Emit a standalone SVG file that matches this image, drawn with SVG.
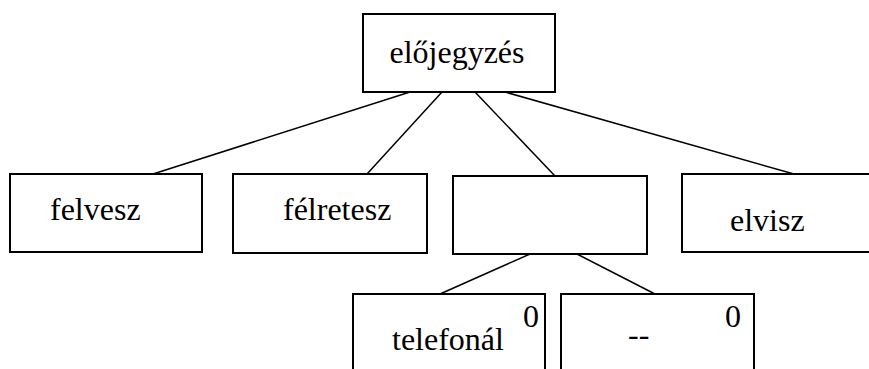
<svg xmlns="http://www.w3.org/2000/svg" width="869" height="369" viewBox="0 0 869 369">
<style>
.box{fill:#fff;stroke:#000;stroke-width:2}
.t{font-family:"Times New Roman",Times,"Liberation Serif","DejaVu Serif",serif;font-size:32px;fill:#000}
.c{stroke:#000;stroke-width:1.5;fill:none}
</style>
<rect width="869" height="369" fill="#fff"/>
<g id="connectors">
<line class="c" x1="410" y1="92" x2="153" y2="174"/>
<line class="c" x1="442" y1="92" x2="367" y2="174"/>
<line class="c" x1="475" y1="92" x2="555" y2="176"/>
<line class="c" x1="505" y1="92" x2="794" y2="174"/>
<line class="c" x1="530" y1="254" x2="440" y2="294"/>
<line class="c" x1="577" y1="254" x2="655" y2="294"/>
</g>
<g id="n-elojegyzes"><rect class="box" x="363" y="14" width="192" height="78"/><text class="t" x="457" y="63" text-anchor="middle">előjegyzés</text></g>
<g id="n-felvesz"><rect class="box" x="10" y="174" width="192" height="78"/><text class="t" x="50" y="220">felvesz</text></g>
<g id="n-felretesz"><rect class="box" x="233" y="174" width="194" height="79"/><text class="t" x="283" y="220">félretesz</text></g>
<g id="n-blank"><rect class="box" x="453" y="176" width="194" height="78"/></g>
<g id="n-elvisz"><rect class="box" x="682" y="174" width="240" height="78"/><text class="t" x="730" y="231">elvisz</text></g>
<g id="n-telefonal"><rect class="box" x="353" y="294" width="192" height="120"/><text class="t" x="392" y="350">telefonál</text><text class="t" x="523" y="327">0</text></g>
<g id="n-dash"><rect class="box" x="561" y="294" width="193" height="120"/><text class="t" x="628" y="345">--</text><text class="t" x="725" y="327">0</text></g>
</svg>
